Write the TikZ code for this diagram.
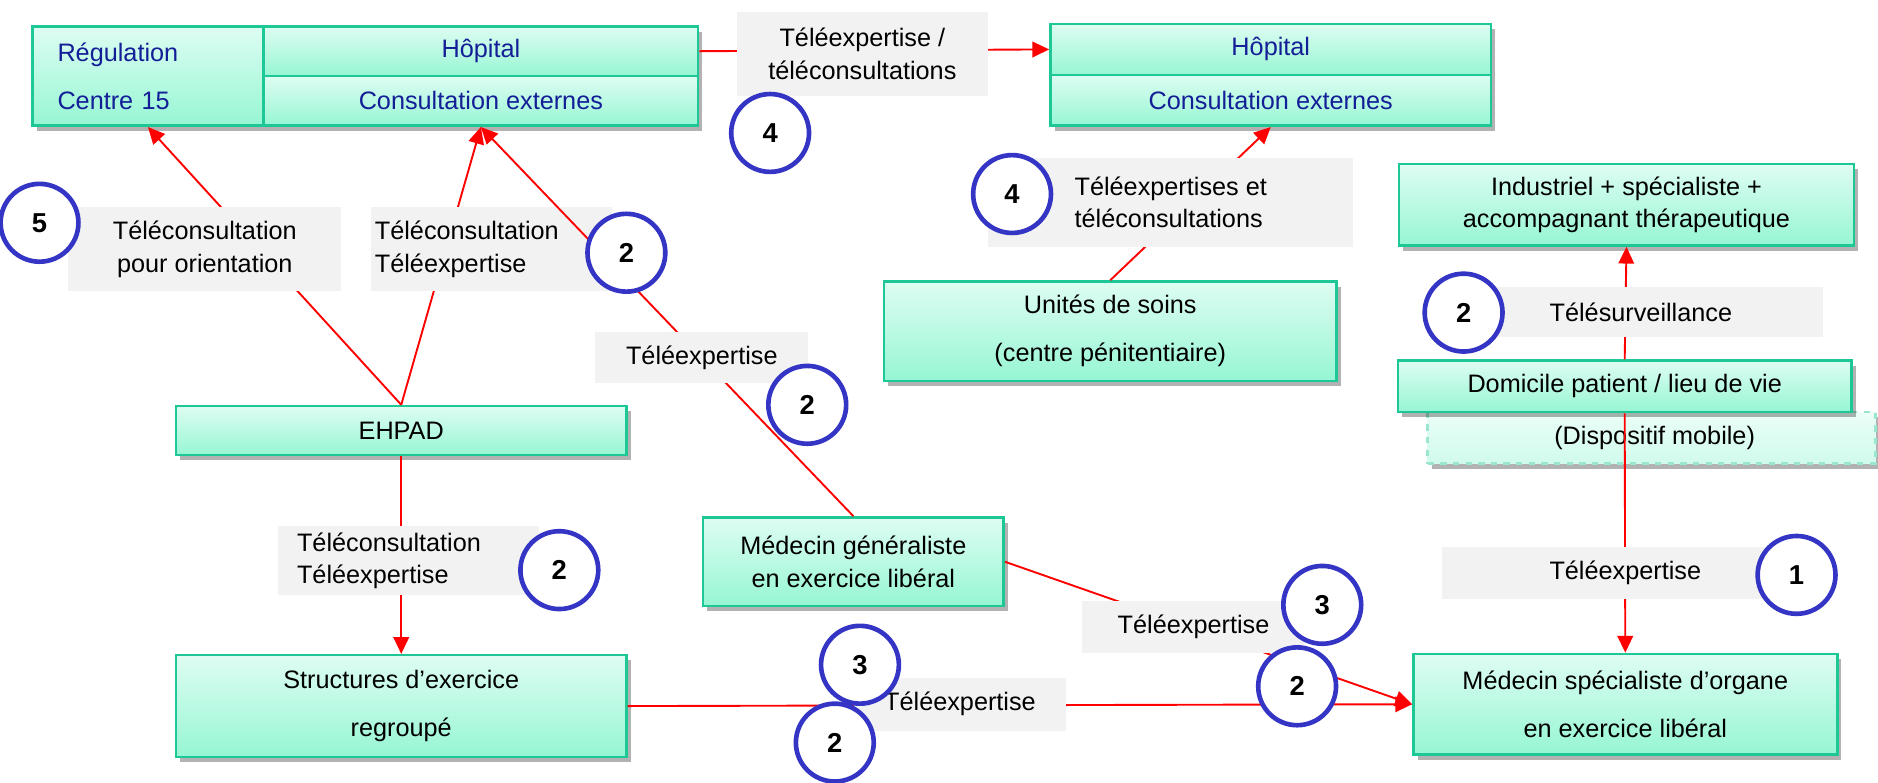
\documentclass[tikz,border=0pt]{standalone}
\usepackage{fontspec}
\setmainfont{Liberation Sans}
\usetikzlibrary{arrows.meta,shadows}

\definecolor{vertbord}{RGB}{30,200,150}
\definecolor{mentheclair}{RGB}{222,253,242}
\definecolor{menthe}{RGB}{150,246,212}
\definecolor{grisetiq}{RGB}{242,242,242}
\definecolor{bleurond}{RGB}{53,53,197}
\definecolor{bleutexte}{RGB}{20,30,150}

\tikzset{
  texte/.style={font=\fontsize{12}{15.4}\selectfont},
  boite/.style={texte, draw=vertbord, line width=1.2pt, top color=mentheclair, bottom color=menthe,
    drop shadow={shadow xshift=2pt, shadow yshift=-2.5pt, fill=black, opacity=.3}, inner sep=0pt, align=center},
  dispo/.style={boite, draw=vertbord!45, dashed, top color=mentheclair!60, bottom color=menthe!45},
  etiq/.style={texte, fill=grisetiq, inner sep=0pt, align=center},
  pastille/.style={circle, draw=bleurond, line width=2.2pt, fill=white, minimum size=1.3cm, inner sep=0pt,
    font=\fontsize{13}{15}\selectfont\bfseries},
  fleche/.style={red, line width=0.9pt, -{Triangle[length=0.28cm,width=0.26cm]}},
  trait/.style={red, line width=0.9pt},
}

\begin{document}
\begin{tikzpicture}[x=0.02cm,y=-0.02cm]
\path[use as bounding box, fill=white] (0,0) rectangle (1568,653);

% boxes
\node[dispo, minimum width=7.48cm, minimum height=0.86cm] (dispositif) at (1379,365.5) {\hspace*{0.1cm}(Dispositif mobile)};
\node[boite, text=bleutexte, align=left, text width=3.02cm, inner xsep=0.42cm, minimum height=1.66cm] (regul) at (123.5,63.5) {Régulation\\[7.4pt]Centre 15};
\node[boite, text=bleutexte, minimum width=7.26cm, minimum height=0.83cm] (hopA) at (401.5,42.75) {Hôpital};
\node[boite, text=bleutexte, minimum width=7.26cm, minimum height=0.83cm] (consA) at (401.5,84.25) {Consultation externes};
\node[boite, text=bleutexte, minimum width=7.36cm, minimum height=0.85cm] (hopB) at (1061,41.25) {Hôpital};
\node[boite, text=bleutexte, minimum width=7.36cm, minimum height=0.85cm] (consB) at (1061,83.75) {Consultation externes};
\node[boite, minimum width=7.56cm, minimum height=1.66cm] (unites) at (927,276.5) {Unités de soins\\[7.4pt](centre pénitentiaire)};
\node[boite, minimum width=7.6cm, minimum height=1.36cm] (industriel) at (1358,171) {Industriel + spécialiste +\\accompagnant thérapeutique};
\node[boite, minimum width=7.58cm, minimum height=0.86cm] (domicile) at (1356.5,322.5) {Domicile patient / lieu de vie};
\node[boite, minimum width=7.08cm, minimum height=1.68cm] (specialiste) at (1357,588) {Médecin spécialiste d’organe\\[7.4pt]en exercice libéral};
\node[boite, minimum width=7.52cm, minimum height=0.82cm] (ehpad) at (335,359.5) {EHPAD};
\node[boite, minimum width=7.52cm, minimum height=1.7cm] (structures) at (335,589.5) {Structures d’exercice\\[7.4pt]regroupé};
\node[boite, minimum width=5.02cm, minimum height=1.48cm] (generaliste) at (712.5,469) {Médecin généraliste\\en exercice libéral};

% connectors
\draw[fleche] (hopA.east) -- (hopB.west);
\draw[fleche] (ehpad.north) -- (regul.south);
\draw[fleche] (ehpad.north) -- (consA.south);
\draw[fleche] (unites.north) -- (consB.south);
\draw[fleche] (domicile.north) -- (industriel.south);
\draw[fleche] (domicile.south) -- (specialiste.north);
\draw[fleche] (ehpad.south) -- (structures.north);
\draw[fleche] (generaliste.east) -- (specialiste.west);
\draw[fleche] (structures.east) -- (specialiste.west);

% labels
\node[etiq, minimum width=4.2cm, minimum height=1.4cm] (lblTop) at (720,45) {Téléexpertise /\\téléconsultations};
\node[etiq, align=left, minimum width=6.1cm, minimum height=1.48cm] (lblUnites) at (977.5,169) {Téléexpertises et\\téléconsultations};
\node[etiq, minimum width=4.56cm, minimum height=1.4cm] (lblOrient) at (171,208) {Téléconsultation\\pour orientation};
\node[etiq, align=left, text width=3.9cm, inner xsep=0.06cm, minimum height=1.4cm] (lblEhpadHop) at (410.5,208) {Téléconsultation\\Téléexpertise};
\node[etiq, minimum width=5.44cm, minimum height=0.82cm] (lblSurv) at (1386,260.5) {\hspace*{-0.64cm}Télésurveillance};
\node[etiq, minimum width=5.48cm, minimum height=0.86cm] (lblUn) at (1341,478.5) {Téléexpertise\hspace*{-0.64cm}};
\node[etiq, align=left, text width=3.72cm, inner xsep=0.32cm, minimum height=1.16cm] (lblEhpadStr) at (341,468) {Téléconsultation\\Téléexpertise};
\node[etiq, minimum width=3.54cm, minimum height=0.88cm] (lblBas) at (801.5,588) {Téléexpertise};
\node[etiq, minimum width=3.74cm, minimum height=0.86cm] (lblDroite) at (996.5,523.5) {Téléexpertise};

\draw[fleche] (generaliste.north) -- (consA.south);
\node[etiq, minimum width=3.56cm, minimum height=0.86cm] (lblMid) at (586,298.5) {Téléexpertise};

% numbered circles
\foreach \nom/\x/\y/\num in {c5/33/186/5, c2a/523/211/2, c2b/674/338/2, c4a/643/111/4, c4b/845/162/4,
    c2c/1222/261/2, c1/1500/480/1, c2d/467/476/2, c3a/718/555/3, c2e/697/620/2, c3b/1104/505/3, c2f/1083/573/2}
  \node[pastille] (\nom) at (\x,\y) {\num};

\end{tikzpicture}
\end{document}
